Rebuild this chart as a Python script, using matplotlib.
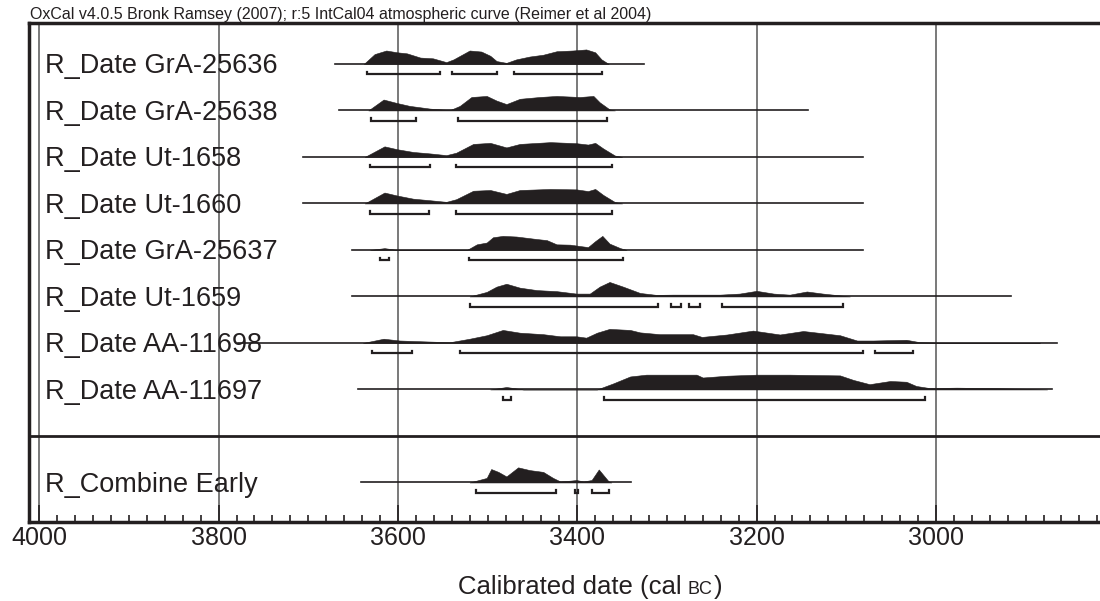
import matplotlib
matplotlib.use('Agg')
import matplotlib.pyplot as plt
from matplotlib.ticker import MultipleLocator

plt.rcParams['font.family'] = ['Liberation Sans', 'DejaVu Sans']
ink = '#231f20'

labels = ['R_Date GrA-25636', 'R_Date GrA-25638', 'R_Date Ut-1658', 'R_Date Ut-1660',
          'R_Date GrA-25637', 'R_Date Ut-1659', 'R_Date AA-11698', 'R_Date AA-11697',
          'R_Combine Early']

# calibrated probability (relative), years cal BC
gra25636_yr = [3638, 3626, 3613, 3601, 3590, 3575, 3561, 3546, 3538, 3520, 3507, 3497, 3490,
               3479, 3468, 3453, 3438, 3423, 3405, 3390, 3380, 3373, 3365]
gra25636_p = [0, 9.3, 12.7, 11, 10, 6, 5.3, 1.7, 4.3, 12.7, 11.7, 7.7, 2.7,
              1, 4.3, 7, 8.7, 12, 12.7, 13.7, 11, 4.3, 0]
gra25636_rng = [(3634, 3553), (3540, 3490), (3470, 3372)]
gra25636_line = (3670, 3326)

gra25638_yr = [3633, 3616, 3601, 3587, 3564, 3542, 3531, 3518, 3501, 3490, 3479, 3464, 3442,
               3423, 3397, 3382, 3375, 3364, 3358]
gra25638_p = [0, 10.3, 7, 4.3, 1.7, 0.3, 4.3, 12.7, 13.7, 9.3, 6, 11, 12.7,
              13.7, 12.7, 13.7, 7.7, 1, 0]
gra25638_rng = [(3630, 3580), (3533, 3367)]
gra25638_line = (3666, 3143)

ut1658_yr = [3637, 3615, 3601, 3583, 3564, 3546, 3535, 3516, 3497, 3479, 3464, 3430, 3401,
             3388, 3380, 3371, 3358, 3350]
ut1658_p = [0, 10, 7.3, 4.7, 3.3, 1.7, 4, 12.3, 13.3, 9, 12.3, 14, 13,
            11.7, 13.3, 8, 1.3, 0]
ut1658_rng = [(3631, 3564), (3535, 3361)]
ut1658_line = (3706, 3081)

ut1660_yr = [3637, 3615, 3601, 3583, 3564, 3546, 3535, 3516, 3497, 3479, 3464, 3430, 3401,
             3388, 3380, 3371, 3358, 3350]
ut1660_p = [0, 10.3, 7.5, 4.5, 3, 1.5, 4, 12, 12.7, 9, 12.7, 13.7, 13.3,
            11.7, 13.7, 8, 1.3, 0]
ut1660_rng = [(3631, 3565), (3535, 3361)]
ut1660_line = (3706, 3081)

gra25637_yr = [3631, 3615, 3601, 3523, 3512, 3501, 3494, 3483, 3468, 3445, 3434, 3423, 3408,
               3397, 3388, 3380, 3372, 3364, 3352, 3345]
gra25637_p = [0, 1.7, 0, 0, 5.3, 7, 12, 13.3, 12.7, 10.3, 9.3, 5.3, 5,
              3.7, 2.7, 8.3, 13.3, 6, 1.7, 0]
gra25637_rng = [(3620, 3610), (3521, 3349)]
gra25637_line = (3651, 3081)

ut1659_yr = [3520, 3501, 3490, 3479, 3464, 3445, 3423, 3401, 3386, 3375, 3364, 3349, 3330,
             3312, 3293, 3267, 3241, 3219, 3200, 3181, 3163, 3144, 3126, 3107, 3096]
ut1659_p = [0, 4.3, 9.3, 12, 8.3, 6, 5, 2.7, 2.7, 9.3, 13.7, 9.3, 3.3,
            1.5, 1.7, 1.7, 1.7, 2.7, 5.3, 2.7, 1.7, 4.7, 2.7, 1, 0]
ut1659_rng = [(3520, 3310), (3295, 3284), (3275, 3263), (3239, 3104)]
ut1659_line = (3651, 2916)

aa11698_yr = [3639, 3616, 3598, 3564, 3542, 3520, 3501, 3483, 3464, 3438, 3419, 3401, 3390,
              3378, 3364, 3341, 3330, 3308, 3293, 3271, 3261, 3233, 3204, 3174, 3148, 3107,
              3088, 3070, 3033, 3018, 2996, 2921, 2884]
aa11698_p = [0, 4, 2.3, 1.3, 0.7, 4, 7.3, 12.3, 9.7, 8.3, 6.3, 6.3, 5,
             9.7, 13.3, 12.3, 10, 8.3, 8.3, 8.3, 5.7, 8, 11.7, 8, 11.3, 7.3,
             2.3, 2.3, 3, 0.7, 0.3, 0.2, 0]
aa11698_rng = [(3629, 3584), (3531, 3081), (3068, 3025)]
aa11698_line = (3778, 2865)

aa11697_yr = [3497, 3479, 3460, 3378, 3360, 3341, 3323, 3293, 3267, 3260, 3233, 3200, 3163,
              3107, 3092, 3074, 3051, 3033, 3022, 3007, 2977, 2940, 2903, 2876]
aa11697_p = [0, 2.3, 0, 0, 5.7, 12.3, 14, 14, 14, 11.3, 13, 14, 14,
             13.3, 9, 5, 8, 7.3, 3.3, 1.3, 1.7, 1.3, 0.7, 0]
aa11697_rng = [(3483, 3474), (3370, 3012)]
aa11697_line = (3645, 2870)

combine_yr = [3520, 3501, 3496, 3488, 3479, 3466, 3453, 3438, 3427, 3419, 3408, 3401, 3393,
              3384, 3376, 3365, 3362]
combine_p = [0, 4.3, 12.7, 10, 5.7, 14.3, 11.7, 10, 4.3, 1, 1.7, 2.3, 1,
             2.3, 12.3, 1, 0]
combine_rng = [(3513, 3424), (3402, 3399), (3383, 3365)]
combine_line = (3641, 3340)

rows = [
    (gra25636_yr, gra25636_p, gra25636_rng, gra25636_line),
    (gra25638_yr, gra25638_p, gra25638_rng, gra25638_line),
    (ut1658_yr, ut1658_p, ut1658_rng, ut1658_line),
    (ut1660_yr, ut1660_p, ut1660_rng, ut1660_line),
    (gra25637_yr, gra25637_p, gra25637_rng, gra25637_line),
    (ut1659_yr, ut1659_p, ut1659_rng, ut1659_line),
    (aa11698_yr, aa11698_p, aa11698_rng, aa11698_line),
    (aa11697_yr, aa11697_p, aa11697_rng, aa11697_line),
    (combine_yr, combine_p, combine_rng, combine_line),
]
row_pos = [0, 1, 2, 3, 4, 5, 6, 7, 9]

fig = plt.figure(figsize=(11, 6.01), dpi=100)
ax = fig.add_axes([28.5 / 1100, 1 - 522 / 601, 1 - 28.5 / 1100, 499 / 601])
ax.set_xlim(4012, 2817)
ax.set_ylim(9.85, -0.88)

scale = 1 / 44
for lab, (yr, p, rng, line), k in zip(labels, rows, row_pos):
    ax.plot(line, [k, k], color=ink, lw=1.2, zorder=3)
    ax.fill_between(yr, [k - v * scale for v in p], k, color=ink, lw=0.4, zorder=3)
    yb = k + 0.225
    for a, b in rng:
        ax.plot([a, a, b, b], [yb - 0.06, yb, yb, yb - 0.06], color=ink, lw=1.6,
                solid_joinstyle='miter', zorder=3)
    ax.text(3994, k + 0.2, lab, fontsize=19.5, color=ink, va='baseline', ha='left', zorder=4)

ax.axhline(8, color=ink, lw=2)

ax.xaxis.set_major_locator(MultipleLocator(200))
ax.xaxis.set_minor_locator(MultipleLocator(20))
ax.tick_params(axis='x', which='major', direction='in', length=12, width=1.2,
               labelsize=18, pad=3, colors=ink)
ax.tick_params(axis='x', which='minor', direction='in', length=5, width=1.2, colors=ink)
ax.set_yticks([])
ax.grid(axis='x', which='major', color='#555555', lw=1.1, zorder=1)
ax.set_axisbelow(True)
ax.spines['right'].set_visible(False)
for s in ['left', 'top', 'bottom']:
    ax.spines[s].set_linewidth(2.5)
    ax.spines[s].set_color(ink)

fig.text(30 / 1100, 1 - 19 / 601,
         'OxCal v4.0.5 Bronk Ramsey (2007); r:5 IntCal04 atmospheric curve (Reimer et al 2004)',
         fontsize=11.5, color=ink, va='baseline', ha='left')

# x label with small caps BC
r = fig.canvas.get_renderer()
yb = 1 - 594 / 601
parts = [('Calibrated date (cal', 18.5, 0), ('BC', 13, 6), (')', 18.5, 1)]
texts = []
for s, fs, gap in parts:
    t = fig.text(0, yb, s, fontsize=fs, color=ink, va='baseline', ha='left')
    texts.append((t, gap))
widths = [t.get_window_extent(r).width for t, g in texts]
total = sum(widths) + sum(g for t, g in texts)
x = 590 - total / 2
for (t, gap), w in zip(texts, widths):
    x += gap
    t.set_x(x / 1100)
    x += w

fig.savefig('out.png', dpi=100)
